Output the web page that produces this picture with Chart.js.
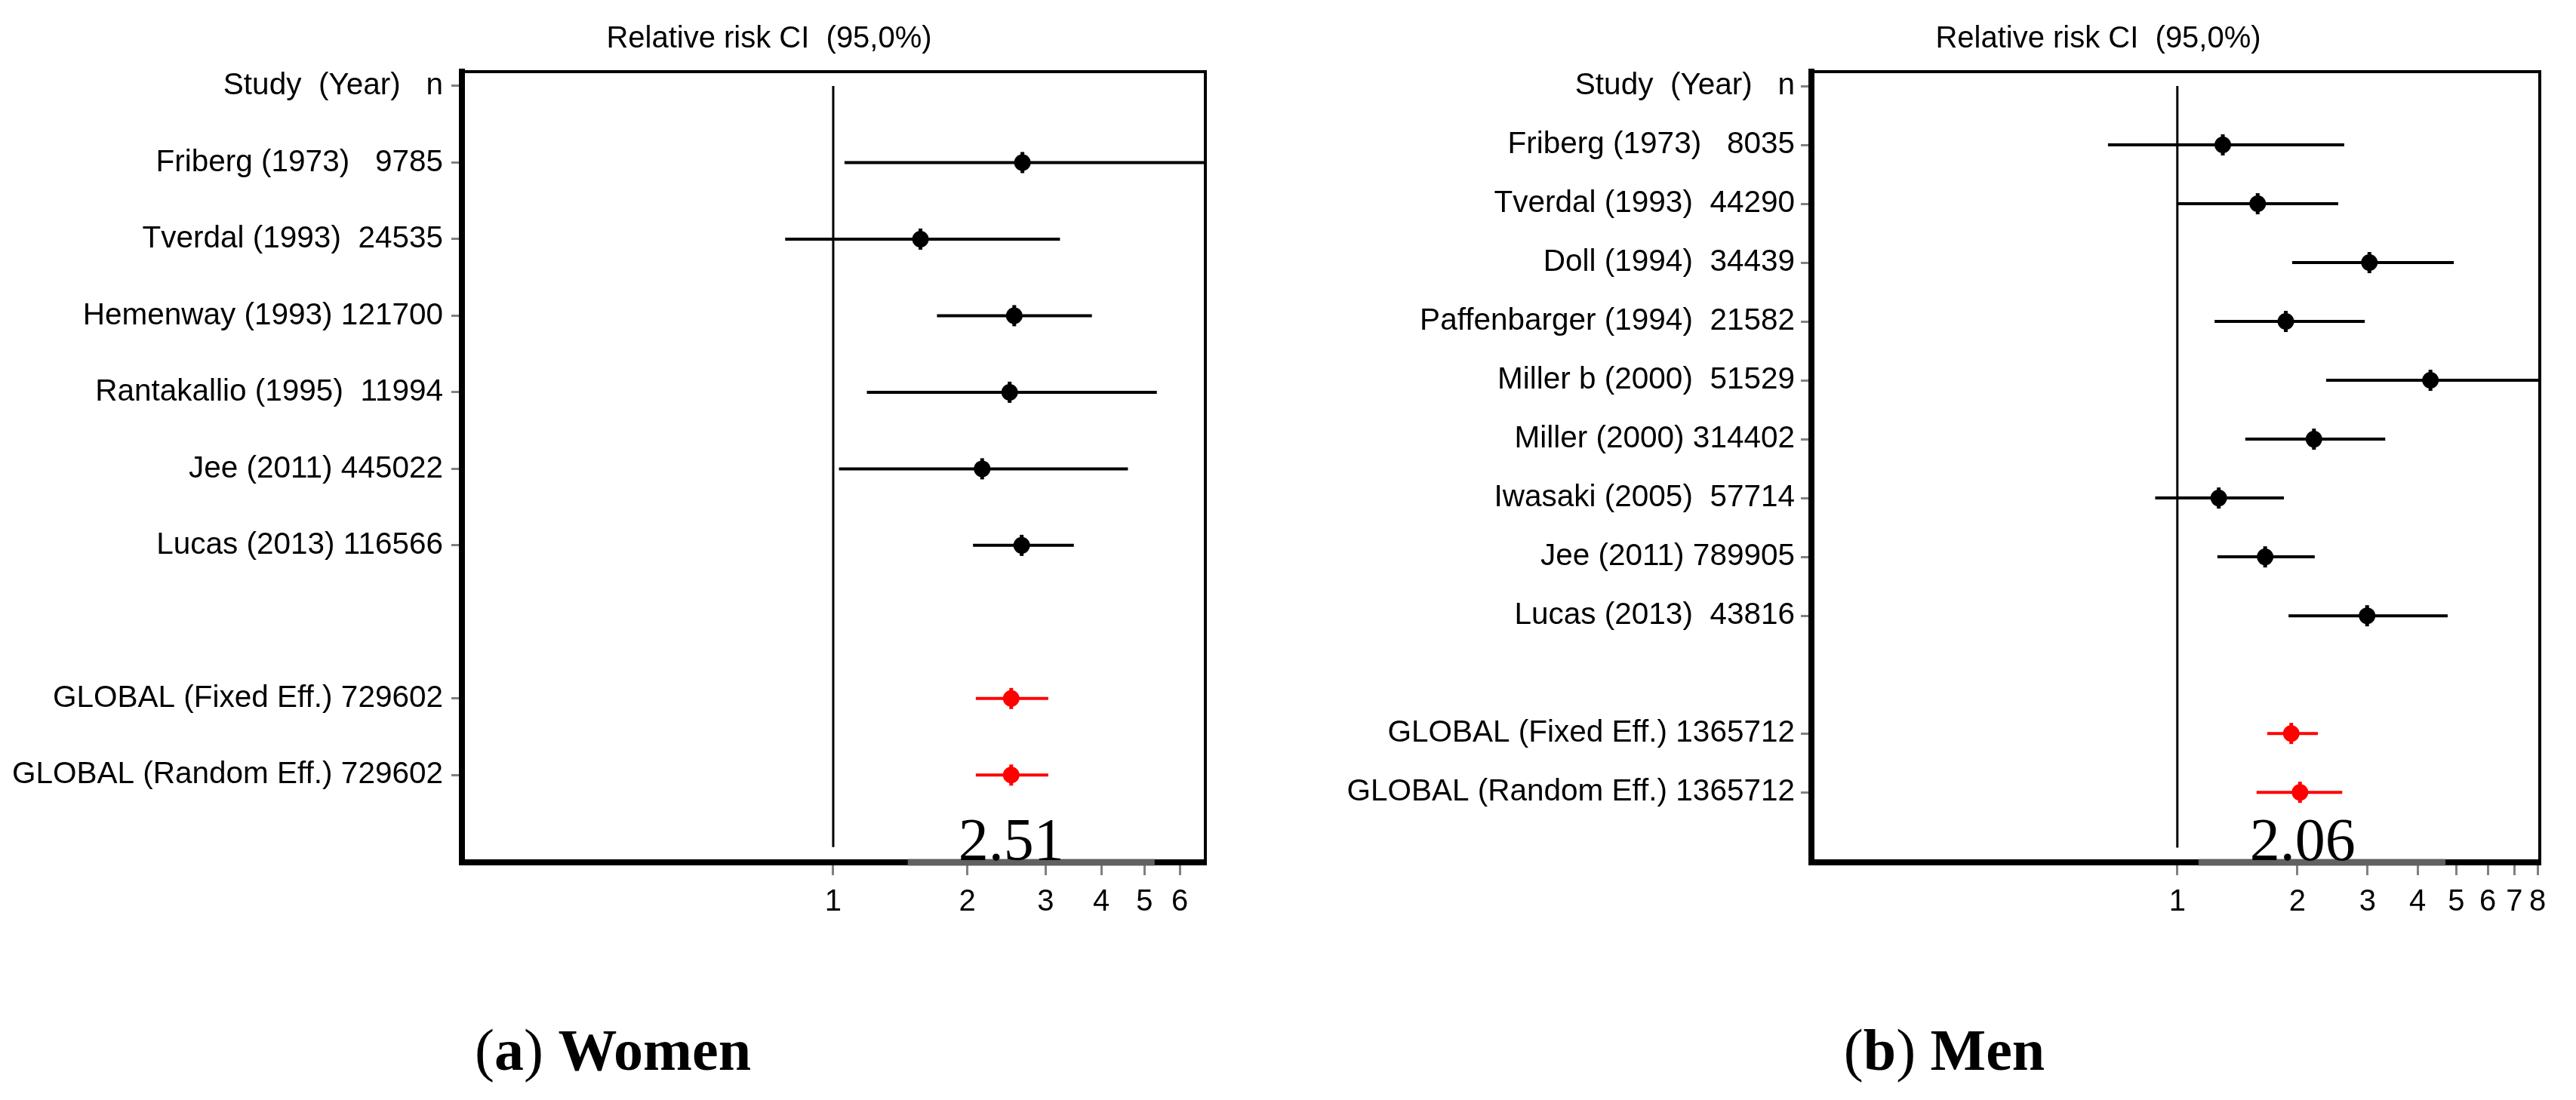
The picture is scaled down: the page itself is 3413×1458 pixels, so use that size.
<!DOCTYPE html>
<html><head><meta charset="utf-8">
<script src="https://cdn.jsdelivr.net/npm/chart.js@4.4.1/dist/chart.umd.min.js"></script>
<style>
html,body{margin:0;padding:0;background:#fff;}
body{width:3413px;height:1458px;position:relative;overflow:hidden;}
canvas{position:absolute;left:0;top:0;}
.t{position:absolute;white-space:pre;line-height:1;color:#000;transform:translateX(-50%);}
.title{font-family:'Liberation Sans',Arial,sans-serif;font-size:40px;}
.cap{font-family:'Liberation Serif','Times New Roman',serif;font-size:78px;}
.cap b{font-weight:bold;}
</style></head><body>
<canvas id="cw" width="3413" height="1458"></canvas>
<canvas id="cm" width="3413" height="1458"></canvas>
<div class="t title" style="left:1019px;top:29px">Relative risk CI  (95,0%)</div>
<div class="t title" style="left:2780px;top:29px">Relative risk CI  (95,0%)</div>
<div class="t cap" style="left:812px;top:1353px">(<b>a</b>) <b>Women</b></div>
<div class="t cap" style="left:2576px;top:1353px">(<b>b</b>) <b>Men</b></div>
<script>
// ---------- Women (a) ----------
const womenLabels = ["Study  (Year)   n", "Friberg (1973)   9785", "Tverdal (1993)  24535", "Hemenway (1993) 121700",
  "Rantakallio (1995)  11994", "Jee (2011) 445022", "Lucas (2013) 116566",
  "GLOBAL (Fixed Eff.) 729602", "GLOBAL (Random Eff.) 729602"];
const womenLabelRows = [0, 1, 2, 3, 4, 5, 6, 8, 9];
const womenRows = [1, 2, 3, 4, 5, 6, 8, 9];
const womenRR = [2.66, 1.57, 2.55, 2.49, 2.16, 2.65, 2.51, 2.51];
const womenLo = [1.06, 0.78, 1.71, 1.19, 1.03, 2.06, 2.09, 2.09];
const womenHi = [6.85, 3.23, 3.81, 5.33, 4.59, 3.47, 3.04, 3.04];
const womenGlobal = [false, false, false, false, false, false, true, true];
const womenTicks = [1, 2, 3, 4, 5, 6];
const womenPooled = "2.51";
const womenBar = [1.47, 5.27];

// ---------- Men (b) ----------
const menLabels = ["Study  (Year)   n", "Friberg (1973)   8035", "Tverdal (1993)  44290", "Doll (1994)  34439",
  "Paffenbarger (1994)  21582", "Miller b (2000)  51529", "Miller (2000) 314402", "Iwasaki (2005)  57714",
  "Jee (2011) 789905", "Lucas (2013)  43816", "GLOBAL (Fixed Eff.) 1365712", "GLOBAL (Random Eff.) 1365712"];
const menLabelRows = [0, 1, 2, 3, 4, 5, 6, 7, 8, 9, 11, 12];
const menRows = [1, 2, 3, 4, 5, 6, 7, 8, 9, 11, 12];
const menRR = [1.30, 1.59, 3.03, 1.87, 4.31, 2.20, 1.27, 1.66, 2.99, 1.93, 2.03];
const menLo = [0.67, 1.00, 1.94, 1.24, 2.36, 1.48, 0.88, 1.26, 1.90, 1.68, 1.58];
const menHi = [2.62, 2.53, 4.93, 2.95, 8.1, 3.32, 1.85, 2.21, 4.76, 2.25, 2.59];
const menGlobal = [false, false, false, false, false, false, false, false, false, true, true];
const menTicks = [1, 2, 3, 4, 5, 6, 7, 8];
const menPooled = "2.06";
const menBar = [1.13, 4.70];

const pooledLabelPlugin = {
  id: 'pooledLabel',
  afterDatasetsDraw(chart, args, opts) {
    const {ctx, scales, chartArea} = chart;
    ctx.save();
    ctx.font = '80px "Liberation Serif", "Times New Roman", serif';
    ctx.fillStyle = '#000';
    ctx.textAlign = 'center';
    ctx.textBaseline = 'alphabetic';
    ctx.fillText(opts.text, scales.x.getPixelForValue(parseFloat(opts.text)), chartArea.bottom + opts.dy);
    ctx.restore();
  }
};

function makeChart(id, c) {
  const colors = c.rr.map((v, i) => c.global[i] ? '#ff0000' : '#000000');
  const pts = c.rr.map((v, i) => ({x: v, y: c.rows[i]}));
  const datasets = [];
  datasets.push({showLine: true, data: [{x: 1, y: c.refSpan[0]}, {x: 1, y: c.refSpan[1]}],
    borderColor: '#000', borderWidth: 3, pointRadius: 0, clip: false});
  c.rr.forEach((v, i) => {
    datasets.push({showLine: true, data: [{x: c.lo[i], y: c.rows[i]}, {x: c.hi[i], y: c.rows[i]}],
      borderColor: colors[i], borderWidth: 4, pointRadius: 0, clip: 0});
  });
  datasets.push({data: pts, pointStyle: 'circle', pointRadius: 11, backgroundColor: colors,
    borderColor: colors, borderWidth: 0, clip: false});
  datasets.push({data: pts, pointStyle: 'line', pointRotation: 90, pointRadius: 14,
    borderColor: colors, pointBorderWidth: 5, clip: false});
  datasets.push({showLine: true, data: [{x: c.bar[0], y: c.ymax}, {x: c.bar[1], y: c.ymax}],
    borderColor: 'rgba(105,105,105,0.92)', borderWidth: 9, pointRadius: 0, clip: false});

  const labelMap = {};
  c.labelRows.forEach((r, i) => { labelMap[r] = c.labels[i]; });
  const family = "'Liberation Sans', Arial, sans-serif";

  return new Chart(document.getElementById(id), {
    type: 'scatter',
    data: {datasets},
    plugins: [pooledLabelPlugin],
    options: {
      responsive: false, animation: false, devicePixelRatio: 1,
      layout: {padding: {left: 0, top: c.top, right: 3413 - c.right, bottom: 1458 - c.bottom - 100}},
      plugins: {legend: {display: false}, tooltip: {enabled: false},
        pooledLabel: {text: c.pooled, dy: -3}},
      scales: {
        x: {type: 'logarithmic', position: 'bottom', min: c.xmin, max: c.xmax,
          afterBuildTicks: s => { s.ticks = c.ticks.map(v => ({value: v})); },
          afterFit: s => { s.height = 100; },
          ticks: {callback: v => String(v), autoSkip: false, maxRotation: 0, minRotation: 0,
            font: {family: family, size: 40}, color: '#000', padding: 12},
          grid: {drawOnChartArea: false, drawTicks: true, tickLength: 17, color: '#808080', lineWidth: 3},
          border: {display: true, color: '#000', width: 8}
        },
        y: {type: 'linear', position: 'left', reverse: true, min: c.ymin, max: c.ymax,
          afterBuildTicks: s => { s.ticks = c.labelRows.map(v => ({value: v})); },
          afterFit: s => { s.width = c.left; },
          ticks: {callback: v => (labelMap[v] !== undefined ? labelMap[v] : ''), autoSkip: false,
            font: {family: family, size: 40.5}, color: '#000', padding: c.labelPad},
          grid: {drawOnChartArea: false, drawTicks: true, tickLength: 14, color: '#808080', lineWidth: 3},
          border: {display: true, color: '#000', width: 8}
        },
        x2: {type: 'linear', position: 'top', display: true,
          ticks: {display: false}, grid: {display: false, drawTicks: false},
          border: {display: true, color: '#000', width: 4},
          afterFit: s => { s.height = 0; }
        },
        y2: {type: 'linear', position: 'right', display: true,
          ticks: {display: false}, grid: {display: false, drawTicks: false},
          border: {display: true, color: '#000', width: 4},
          afterFit: s => { s.width = 0; }
        }
      }
    }
  });
}

makeChart('cw', {labels: womenLabels, labelRows: womenLabelRows, rows: womenRows, rr: womenRR,
  lo: womenLo, hi: womenHi, global: womenGlobal, ticks: womenTicks, pooled: womenPooled, bar: womenBar,
  xmin: 0.1466, xmax: 6.85, ymin: -0.187, ymax: 10.14, refSpan: [0, 9.94],
  left: 612, right: 1597, top: 95, bottom: 1143, labelPad: 11});

makeChart('cm', {labels: menLabels, labelRows: menLabelRows, rows: menRows, rr: menRR,
  lo: menLo, hi: menHi, global: menGlobal, ticks: menTicks, pooled: menPooled, bar: menBar,
  xmin: 0.121, xmax: 8.1, ymin: -0.244, ymax: 13.19, refSpan: [0, 12.94],
  left: 2400, right: 3365, top: 95, bottom: 1143, labelPad: 8});
</script>
</body></html>
